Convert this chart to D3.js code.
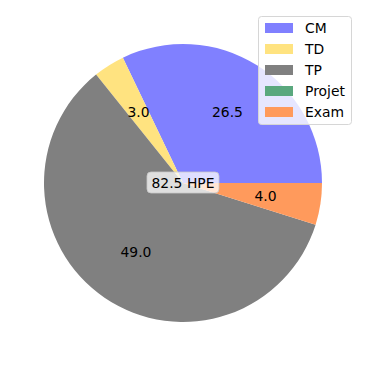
<!DOCTYPE html>
<html>
<head>
<meta charset="utf-8">
<script src="https://cdn.jsdelivr.net/npm/d3@7"></script>
<style>
  html, body { margin: 0; padding: 0; background: #fff; }
  svg { display: block; font-family: "DejaVu Sans", sans-serif; }
</style>
</head>
<body>
<svg id="chart" width="366" height="366"></svg>
<script>
// -----------------------------
// Data
// -----------------------------
const categories = ["CM", "TD", "TP", "Projet", "Exam"];
const hours = [26.5, 3.0, 49.0, 0.0, 4.0];
const colors = ["#8080ff", "#ffe380", "#808080", "#5aa87e", "#ff9a5c"];
const totalLabel = "82.5 HPE";

const svg = d3.select("#chart");
const cx = 183, cy = 183, radius = 139;

const data = categories.map((c, i) => ({ name: c, value: hours[i], color: colors[i] }));

// matplotlib style: start at 3 o'clock, go counter-clockwise
const pie = d3.pie()
  .sort(null)
  .value((d) => d.value)
  .startAngle(Math.PI / 2)
  .endAngle(Math.PI / 2 - 2 * Math.PI);

const arcs = pie(data);
const arc = d3.arc().innerRadius(0).outerRadius(radius);
const labelArc = d3.arc().innerRadius(radius * 0.6).outerRadius(radius * 0.6);

const g = svg.append("g").attr("transform", `translate(${cx},${cy})`);

g.selectAll("path")
  .data(arcs.filter((d) => d.data.value > 0))
  .join("path")
  .attr("d", arc)
  .attr("fill", (d) => d.data.color);

g.selectAll(".lbl")
  .data(arcs.filter((d) => d.data.value > 0))
  .join("text")
  .attr("class", "lbl")
  .attr("transform", (d) => `translate(${labelArc.centroid(d)})`)
  .attr("text-anchor", "middle")
  .attr("dominant-baseline", "central")
  .style("font-size", "13.9px")
  .style("fill", "#000")
  .text((d) => d.data.value.toFixed(1));

// center total label with rounded box
const centre = g.append("g");
centre.append("rect")
  .attr("x", -36).attr("y", -11)
  .attr("width", 72).attr("height", 21)
  .attr("rx", 4)
  .attr("fill", "rgba(255,255,255,0.75)")
  .attr("stroke", "rgba(200,200,200,0.8)")
  .attr("stroke-width", 1);
centre.append("text")
  .attr("text-anchor", "middle")
  .attr("dominant-baseline", "central")
  .style("font-size", "13.9px")
  .text(totalLabel);

// -----------------------------
// Legend
// -----------------------------
const legend = svg.append("g").attr("transform", "translate(258,16)");
legend.append("rect")
  .attr("x", 0.5).attr("y", 0.5)
  .attr("width", 93).attr("height", 108)
  .attr("rx", 3)
  .attr("fill", "rgba(255,255,255,0.8)")
  .attr("stroke", "#d6d6d6");

const rowY = d3.scalePoint().domain(categories).range([12, 96]);

legend.selectAll(".sw")
  .data(data)
  .join("rect")
  .attr("class", "sw")
  .attr("x", 7)
  .attr("y", (d) => rowY(d.name) - 5)
  .attr("width", 28)
  .attr("height", 10)
  .attr("fill", (d) => d.color);

legend.selectAll(".lt")
  .data(data)
  .join("text")
  .attr("class", "lt")
  .attr("x", 47)
  .attr("y", (d) => rowY(d.name))
  .attr("dominant-baseline", "central")
  .style("font-size", "13.9px")
  .text((d) => d.name);
</script>
</body>
</html>
